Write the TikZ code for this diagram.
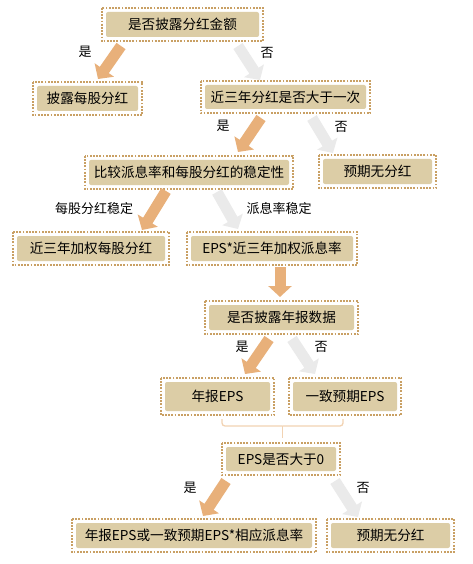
\documentclass[tikz,border=0pt]{standalone}
\usepackage{fontspec}
\setmainfont{Noto Sans CJK SC}
\usetikzlibrary{arrows.meta,calc}
\definecolor{boxfill}{HTML}{DCCDA6}
\definecolor{dotcol}{HTML}{C9A064}
\definecolor{orangearr}{HTML}{E8B07A}
\definecolor{greyarr}{HTML}{EAEAEA}
\definecolor{bracecol}{HTML}{F2D3B3}
\tikzset{
  box/.style={fill=boxfill, rounded corners=2pt, inner sep=0pt, font=\fontsize{13.6}{15}\selectfont, text=black},
  dotbox/.style={draw=dotcol, line width=1.8pt, dash pattern=on 1.8pt off 1.4pt},
  oarrow/.style={draw=orangearr, line width=11pt, -{Triangle[width=23pt,length=11pt]}},
  garrow/.style={draw=greyarr, line width=11pt, -{Triangle[width=23pt,length=11pt]}},
  lbl/.style={font=\fontsize{13}{14}\selectfont, text=black, inner sep=0pt},
  bracestyle/.style={draw=bracecol, line width=1.3pt, rounded corners=3pt}
}
\newcommand{\outerdots}[1]{\draw[dotbox] ([shift={(-4,-4)}]#1.north west) rectangle ([shift={(4,4)}]#1.south east);}
\begin{document}
\begin{tikzpicture}[x=1pt,y=-1pt]
\useasboundingbox[fill=white] (0,0) rectangle (472,564);
% boxes
\node[box, minimum width=153pt, minimum height=25pt] (n1) at (182.5,24.5) {是否披露分红金额};
\node[box, minimum width=101pt, minimum height=25pt] (n2) at (87.5,98.5) {披露每股分红};
\node[box, minimum width=161pt, minimum height=24pt] (n3) at (285.5,97) {近三年分红是否大于一次};
\node[box, minimum width=200pt, minimum height=25pt] (n4) at (189,172.5) {比较派息率和每股分红的稳定性};
\node[box, minimum width=109pt, minimum height=25pt] (n5) at (377.5,171.5) {预期无分红};
\node[box, minimum width=148pt, minimum height=25pt] (n6) at (91,248.5) {近三年加权每股分红};
\node[box, minimum width=162pt, minimum height=25pt] (n7) at (272,248.5) {EPS*近三年加权派息率};
\node[box, minimum width=145pt, minimum height=25pt] (n8) at (281.5,317.5) {是否披露年报数据};
\node[box, minimum width=105pt, minimum height=29pt] (n9) at (217.5,396.5) {年报EPS};
\node[box, minimum width=104pt, minimum height=29pt] (n10) at (345,396.5) {一致预期EPS};
\node[box, minimum width=110pt, minimum height=24pt] (n11) at (281,459) {EPS是否大于0};
\node[box, minimum width=236pt, minimum height=25pt] (n12) at (194,535.5) {年报EPS或一致预期EPS*相应派息率};
\node[box, minimum width=119pt, minimum height=25pt] (n13) at (390.5,535.5) {预期无分红};
\foreach \n in {n1,n2,n3,n4,n5,n6,n7,n8,n9,n10,n11,n12,n13} {\outerdots{\n}}
% arrow end points
\coordinate (a1t) at (121,46);  \coordinate (a1h) at (98,79);
\coordinate (a2t) at (238,46);  \coordinate (a2h) at (260,80);
\coordinate (a3t) at (261,118); \coordinate (a3h) at (238,152);
\coordinate (a4t) at (312,118); \coordinate (a4h) at (333,153);
\coordinate (a5t) at (166,191); \coordinate (a5h) at (142,230);
\coordinate (a6t) at (217,192); \coordinate (a6h) at (238,229);
\coordinate (a7t) at (280,267); \coordinate (a7h) at (280,297);
\coordinate (a8t) at (269,339); \coordinate (a8h) at (245,374);
\coordinate (a9t) at (292,339); \coordinate (a9h) at (315,374);
\coordinate (a10t) at (226,481); \coordinate (a10h) at (203,516);
\coordinate (a11t) at (335,481); \coordinate (a11h) at (358,517);
\draw[oarrow] (a1t) -- (a1h);
\draw[garrow] (a2t) -- (a2h);
\draw[oarrow] (a3t) -- (a3h);
\draw[garrow] (a4t) -- (a4h);
\draw[oarrow] (a5t) -- (a5h);
\draw[garrow] (a6t) -- (a6h);
\draw[oarrow] (a7t) -- (a7h);
\draw[oarrow] (a8t) -- (a8h);
\draw[garrow] (a9t) -- (a9h);
\draw[oarrow] (a10t) -- (a10h);
\draw[garrow] (a11t) -- (a11h);
% labels
\node[lbl] (l1) at (85,52) {是};
\node[lbl] (l2) at (267,53) {否};
\node[lbl] (l3) at (223,126) {是};
\node[lbl] (l4) at (341,127) {否};
\node[lbl] (l5) at (94,209) {每股分红稳定};
\node[lbl] (l6) at (279,209) {派息率稳定};
\node[lbl] (l7) at (242,347) {是};
\node[lbl] (l8) at (321,347) {否};
\node[lbl] (l9) at (190,488) {是};
\node[lbl] (l10) at (363,488) {否};
% brace
\coordinate (bl) at (222,419);
\coordinate (br) at (343,419);
\coordinate (bm) at (282.5,426);
\coordinate (bb) at (282.5,438);
\draw[bracestyle] (bl) -- (222,426) -- (bm);
\draw[bracestyle] (br) -- (343,426) -- (bm);
\draw[draw=bracecol, line width=1.3pt] (bm) -- (bb);
\end{tikzpicture}
\end{document}
